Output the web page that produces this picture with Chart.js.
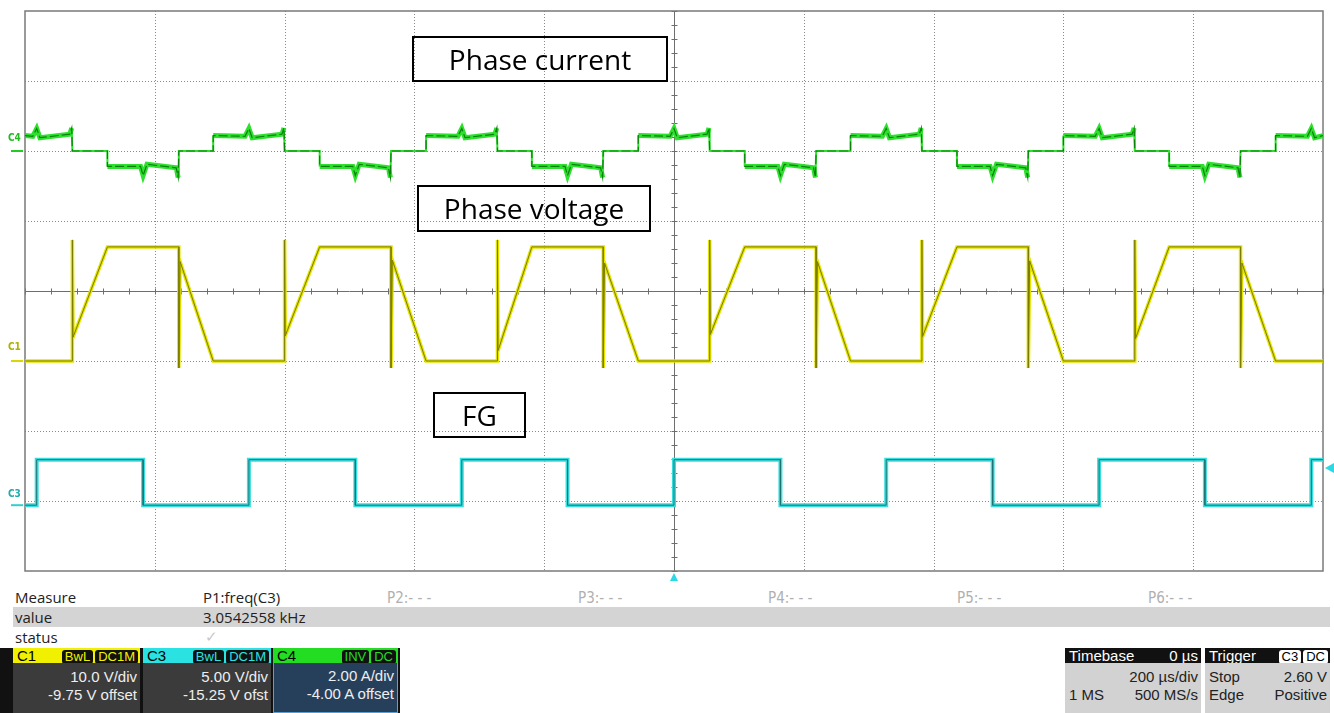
<!DOCTYPE html>
<html>
<head>
<meta charset="utf-8">
<script src="https://cdn.jsdelivr.net/npm/chart.js@4.4.1/dist/chart.umd.min.js"></script>
<style>
  body { margin:0; background:#fff; width:1334px; height:713px; overflow:hidden; position:relative; font-family:"Liberation Sans", Arial, sans-serif; }
  #scope { position:absolute; left:0; top:0; }
  .note { position:absolute; border:2px solid #000; box-sizing:border-box; font-family:"Open Sans","Noto Sans",sans-serif; font-size:28px; color:#000; text-align:center; }
  .chm { position:absolute; left:8px; font:bold 10px "DejaVu Sans Condensed","DejaVu Sans", sans-serif; }
  .txt { position:absolute; font-family:"Open Sans", sans-serif; font-size:15px; line-height:18px; color:#222; white-space:nowrap; }
  .pp { position:absolute; font-family:"Liberation Sans Narrow","DejaVu Sans Condensed",sans-serif; font-size:15px; line-height:18px; color:#b0b0b0; top:589px; }
  .box { position:absolute; top:648px; height:65px; box-sizing:border-box; }
  .hd { height:15px; position:relative; font-size:15px; line-height:15px; padding-left:4px; }
  .bd { position:absolute; top:15px; left:0; right:0; bottom:0; font-size:15px; }
  .ln { position:absolute; left:4px; right:3px; height:18px; line-height:18px; }
  .r { position:absolute; right:0; }
  .l { position:absolute; left:0; }
  .bg { display:inline-block; background:#111; border-radius:3px; font-size:13px; line-height:14px; padding:0 3px; margin-left:2px; }
  .badges { position:absolute; right:2px; top:0; }
</style>
</head>
<body>
<canvas id="scope" width="1334" height="585"></canvas>

<div class="note" style="left:412px;top:36px;width:256px;height:46px;line-height:42px;">Phase current</div>
<div class="note" style="left:417px;top:185px;width:234px;height:47px;line-height:43px;">Phase voltage</div>
<div class="note" style="left:433px;top:392px;width:93px;height:46px;line-height:42px;">FG</div>

<div class="chm" style="top:132px;color:#22bb22;">C4</div>
<div class="chm" style="top:341px;color:#b0b000;">C1</div>
<div class="chm" style="top:488px;color:#22aaaa;">C3</div>

<!-- measure table -->
<div style="position:absolute;left:13px;top:607px;width:1317px;height:20px;background:#d4d4d4;"></div>
<div class="txt" style="left:15px;top:588px;">Measure</div>
<div class="txt" style="left:203px;top:588px;">P1:freq(C3)</div>
<div class="pp" style="left:387px;">P2:- - -</div>
<div class="pp" style="left:578px;">P3:- - -</div>
<div class="pp" style="left:768px;">P4:- - -</div>
<div class="pp" style="left:957px;">P5:- - -</div>
<div class="pp" style="left:1148px;">P6:- - -</div>
<div class="txt" style="left:15px;top:608px;">value</div>
<div class="txt" style="left:203px;top:608px;">3.0542558 kHz</div>
<div class="txt" style="left:15px;top:628px;">status</div>
<div class="txt" style="left:205px;top:627px;color:#c8c8c8;">✓</div>

<!-- channel boxes -->
<div class="box" style="left:0;width:400px;background:#111;"></div>
<div class="box" style="left:13px;width:127px;">
  <div class="hd" style="background:#f0f000;color:#000;">C1<span class="badges"><span class="bg" style="color:#f0f000;">BwL</span><span class="bg" style="color:#f0f000;">DC1M</span></span></div>
  <div class="bd" style="background:#3b3b3b;color:#eee;">
    <div class="ln" style="top:5px;"><span class="r">10.0 V/div</span></div>
    <div class="ln" style="top:23px;"><span class="r">-9.75 V offset</span></div>
  </div>
</div>
<div class="box" style="left:143px;width:128px;">
  <div class="hd" style="background:#2ae2e2;color:#000;">C3<span class="badges"><span class="bg" style="color:#2ae2e2;">BwL</span><span class="bg" style="color:#2ae2e2;">DC1M</span></span></div>
  <div class="bd" style="background:#3b3b3b;color:#eee;">
    <div class="ln" style="top:5px;"><span class="r">5.00 V/div</span></div>
    <div class="ln" style="top:23px;"><span class="r">-15.25 V ofst</span></div>
  </div>
</div>
<div class="box" style="left:273px;width:125px;">
  <div class="hd" style="background:#22dd22;color:#000;">C4<span class="badges"><span class="bg" style="color:#22dd22;">INV</span><span class="bg" style="color:#22dd22;">DC</span></span></div>
  <div class="bd" style="background:#26405c;color:#eee;border:1px solid #5aa0d0;border-top:none;">
    <div class="ln" style="top:4px;"><span class="r">2.00 A/div</span></div>
    <div class="ln" style="top:22px;"><span class="r">-4.00 A offset</span></div>
  </div>
</div>

<div class="box" style="left:1065px;width:136px;">
  <div class="hd" style="background:#111;color:#fff;">Timebase<span style="position:absolute;right:3px;">0 µs</span></div>
  <div class="bd" style="background:#d2d2d2;color:#222;">
    <div class="ln" style="top:5px;"><span class="r">200 µs/div</span></div>
    <div class="ln" style="top:23px;"><span class="l">1 MS</span><span class="r">500 MS/s</span></div>
  </div>
</div>
<div class="box" style="left:1205px;width:125px;">
  <div class="hd" style="background:#111;color:#fff;">Trigger<span class="badges"><span class="bg" style="background:#fff;color:#000;">C3</span><span class="bg" style="background:#fff;color:#000;">DC</span></span></div>
  <div class="bd" style="background:#d2d2d2;color:#222;">
    <div class="ln" style="top:5px;"><span class="l">Stop</span><span class="r">2.60 V</span></div>
    <div class="ln" style="top:23px;"><span class="l">Edge</span><span class="r">Positive</span></div>
  </div>
</div>

<script>
// time in µs (200 µs/div, trigger at 0), levels in screen divisions

// C3 - FG
var fgTime  = [-1000, -982, -982, -818, -818, -655, -655, -491, -491, -327, -327, -164, -164, 0, 0, 164, 164, 327, 327, 491, 491, 655, 655, 818, 818, 982, 982, 1000];
var fgLevel = [-3.06, -3.06, -2.41, -2.41, -3.06, -3.06, -2.41, -2.41, -3.06, -3.06, -2.41, -2.41, -3.06, -3.06, -2.41, -2.41, -3.06, -3.06, -2.41, -2.41, -3.06, -3.06, -2.41, -2.41, -3.06, -3.06, -2.41, -2.41];

// C1 - phase voltage
var voltTime  = [-1000, -927, -927, -926, -873, -763, -763, -761, -710,
                 -600, -600, -599, -546, -436, -436, -434, -382,
                 -272, -272, -271, -219, -109, -109, -107, -55,
                 55, 55, 56, 109, 219, 219, 221, 272,
                 382, 382, 383, 436, 546, 546, 548, 600,
                 710, 710, 711, 763, 873, 873, 875, 927, 1000];
var voltLevel = [-1.0, -1.0, 0.73, -0.66, 0.63, 0.63, -1.1, 0.42, -1.0,
                 -1.0, 0.73, -0.64, 0.63, 0.63, -1.1, 0.44, -1.0,
                 -1.0, 0.73, -0.85, 0.63, 0.63, -1.1, 0.40, -1.0,
                 -1.0, 0.73, -0.62, 0.63, 0.63, -1.1, 0.42, -1.0,
                 -1.0, 0.73, -0.65, 0.63, 0.63, -1.1, 0.43, -1.0,
                 -1.0, 0.73, -0.68, 0.63, 0.63, -1.1, 0.40, -1.0, -1.0];

// C4 - phase current
var curTime  = [-1000, -988, -982, -977, -931, -928, -927,
                -873, -873, -822, -818, -812, -767, -764, -763,
                -710, -710, -661, -655, -650, -604, -601, -600,
                -546, -546, -495, -491, -485, -440, -437, -436,
                -382, -382, -333, -327, -322, -276, -273, -272,
                -219, -219, -168, -164, -158, -113, -110, -109,
                -55, -55, -6, 0, 5, 51, 54, 55,
                109, 109, 160, 164, 170, 215, 218, 219,
                272, 272, 321, 327, 332, 378, 381, 382,
                436, 436, 487, 491, 497, 542, 545, 546,
                600, 600, 649, 655, 660, 706, 709, 710,
                763, 763, 814, 818, 824, 869, 872, 873,
                927, 927, 976, 982, 987, 1000];
var curLevel = [2.22, 2.21, 2.32, 2.19, 2.24, 2.33, 2.0,
                2.0, 1.78, 1.78, 1.65, 1.81, 1.76, 1.62, 2.0,
                2.0, 2.22, 2.21, 2.32, 2.19, 2.24, 2.33, 2.0,
                2.0, 1.78, 1.78, 1.65, 1.81, 1.76, 1.62, 2.0,
                2.0, 2.22, 2.21, 2.32, 2.19, 2.24, 2.33, 2.0,
                2.0, 1.78, 1.78, 1.65, 1.81, 1.76, 1.62, 2.0,
                2.0, 2.22, 2.21, 2.32, 2.19, 2.24, 2.33, 2.0,
                2.0, 1.78, 1.78, 1.65, 1.81, 1.76, 1.62, 2.0,
                2.0, 2.22, 2.21, 2.32, 2.19, 2.24, 2.33, 2.0,
                2.0, 1.78, 1.78, 1.65, 1.81, 1.76, 1.62, 2.0,
                2.0, 2.22, 2.21, 2.32, 2.19, 2.24, 2.33, 2.0,
                2.0, 1.78, 1.78, 1.65, 1.81, 1.76, 1.62, 2.0,
                2.0, 2.22, 2.21, 2.32, 2.19, 2.22];

var trigLevel = -2.53;   // 2.60 V on C3

function pts(t, v) {
  return t.map(function(x, i) { return {x: x, y: v[i]}; });
}

// scope graticule: dotted divisions, center cross with minor ticks, frame
var graticule = {
  id: 'graticule',
  beforeDatasetsDraw: function(chart) {
    var c = chart.ctx, a = chart.chartArea;
    var xs = chart.scales.x, ys = chart.scales.y;
    c.save();
    c.lineWidth = 1;
    c.strokeStyle = '#8a8a8a';
    c.setLineDash([1, 2]);
    for (var t = -800; t <= 800; t += 200) {
      if (t === 0) continue;
      var px = Math.round(xs.getPixelForValue(t)) + 0.5;
      c.beginPath(); c.moveTo(px, a.top); c.lineTo(px, a.bottom); c.stroke();
    }
    for (var d = -3; d <= 3; d++) {
      if (d === 0) continue;
      var py = Math.round(ys.getPixelForValue(d)) + 0.5;
      c.beginPath(); c.moveTo(a.left, py); c.lineTo(a.right, py); c.stroke();
    }
    c.setLineDash([]);
    c.strokeStyle = '#6e6e6e';
    var cx = Math.round(xs.getPixelForValue(0)) + 0.5;
    var cy = Math.round(ys.getPixelForValue(0)) + 0.5;
    c.beginPath(); c.moveTo(cx, a.top); c.lineTo(cx, a.bottom); c.stroke();
    c.beginPath(); c.moveTo(a.left, cy); c.lineTo(a.right, cy); c.stroke();
    c.beginPath();
    for (var tt = -1000; tt <= 1000; tt += 40) {
      var tx = Math.round(xs.getPixelForValue(tt)) + 0.5;
      c.moveTo(tx, cy - 3); c.lineTo(tx, cy + 3);
    }
    for (var dd = -4; dd <= 4.001; dd += 0.2) {
      var ty = Math.round(ys.getPixelForValue(dd)) + 0.5;
      c.moveTo(cx - 3, ty); c.lineTo(cx + 3, ty);
    }
    c.stroke();
    c.strokeStyle = '#7a7a7a';
    c.lineWidth = 1.5;
    c.strokeRect(a.left, a.top, a.right - a.left, a.bottom - a.top);
    c.restore();
  },
  afterDraw: function(chart) {
    var c = chart.ctx, a = chart.chartArea;
    var xs = chart.scales.x, ys = chart.scales.y;
    c.save();
    c.fillStyle = '#2ad8e6';
    // trigger position marker
    var tx = xs.getPixelForValue(0);
    c.beginPath(); c.moveTo(tx, a.bottom + 2); c.lineTo(tx - 4, a.bottom + 10); c.lineTo(tx + 4, a.bottom + 10); c.closePath(); c.fill();
    // trigger level marker
    var ty = ys.getPixelForValue(trigLevel);
    c.beginPath(); c.moveTo(a.right + 2, ty); c.lineTo(a.right + 11, ty - 5); c.lineTo(a.right + 11, ty + 5); c.closePath(); c.fill();
    // channel ground markers
    var marks = [[2.0, '#22cc22'], [-1.0, '#d8d800'], [-3.06, '#30d0d0']];
    marks.forEach(function(m) {
      var y = ys.getPixelForValue(m[0]);
      c.strokeStyle = m[1]; c.lineWidth = 2;
      c.beginPath(); c.moveTo(a.left - 14, y); c.lineTo(a.left - 2, y); c.stroke();
    });
    c.restore();
  }
};

function bandWidth(ctx) {
  return (ctx.p0.parsed.y !== 2 && ctx.p1.parsed.y !== 2) ? 5 : 2;
}

// first dataset is drawn on top, so the dark edge traces come first
new Chart(document.getElementById('scope'), {
  type: 'line',
  data: {
    datasets: [
      { label: 'C3 edge', data: pts(fgTime, fgLevel), borderColor: '#1f7373', borderWidth: 1 },
      { label: 'C1 edge', data: pts(voltTime, voltLevel), borderColor: '#7d7d00', borderWidth: 1 },
      { label: 'C4 edge', data: pts(curTime, curLevel), borderColor: '#0c800c', borderWidth: 1.2, borderDash: [9, 3] },
      { label: 'C3', data: pts(fgTime, fgLevel), borderColor: '#38dede', borderWidth: 4 },
      { label: 'C1', data: pts(voltTime, voltLevel), borderColor: '#e4e400', borderWidth: 3.5 },
      { label: 'C4', data: pts(curTime, curLevel), borderColor: '#2ee02e', borderWidth: 2, segment: { borderWidth: bandWidth } }
    ]
  },
  options: {
    responsive: false,
    animation: false,
    events: [],
    layout: { padding: { left: 25, right: 11, top: 11, bottom: 14 } },
    elements: { point: { radius: 0 }, line: { tension: 0, borderJoinStyle: 'miter' } },
    scales: {
      x: { type: 'linear', min: -1000, max: 1000, display: false },
      y: { type: 'linear', min: -4, max: 4, display: false }
    },
    plugins: { legend: { display: false }, tooltip: { enabled: false } }
  },
  plugins: [graticule]
});
</script>
</body>
</html>
